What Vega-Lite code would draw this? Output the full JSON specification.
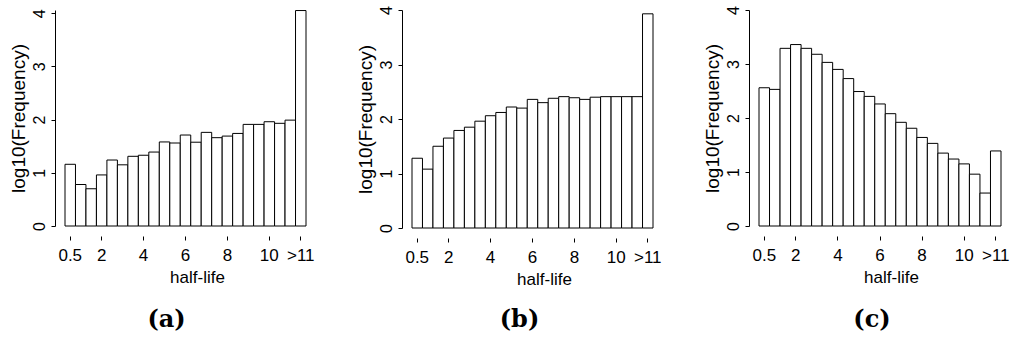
{
  "$schema": "https://vega.github.io/schema/vega-lite/v6.json",
  "padding": {"left": 9, "top": 5, "right": 0, "bottom": 0},
  "background": "white",
  "config": {
    "view": {"stroke": null},
    "axis": {"grid": false, "domainColor": "black", "tickColor": "black", "labelColor": "black", "titleColor": "black", "labelFont": "Liberation Sans", "titleFont": "Liberation Sans", "titleFontWeight": "normal", "domainWidth": 1, "tickWidth": 1},
    "title": {"font": "DejaVu Serif", "fontWeight": "bold", "fontSize": 24, "color": "black"}
  },
  "data": {"values": [
    {"panel": "a", "hl": "0.5", "v": 1.16}, {"panel": "a", "hl": "1", "v": 0.78}, {"panel": "a", "hl": "1.5", "v": 0.70}, {"panel": "a", "hl": "2", "v": 0.96}, {"panel": "a", "hl": "2.5", "v": 1.24}, {"panel": "a", "hl": "3", "v": 1.15}, {"panel": "a", "hl": "3.5", "v": 1.31}, {"panel": "a", "hl": "4", "v": 1.33}, {"panel": "a", "hl": "4.5", "v": 1.39}, {"panel": "a", "hl": "5", "v": 1.58}, {"panel": "a", "hl": "5.5", "v": 1.56}, {"panel": "a", "hl": "6", "v": 1.71}, {"panel": "a", "hl": "6.5", "v": 1.575}, {"panel": "a", "hl": "7", "v": 1.76}, {"panel": "a", "hl": "7.5", "v": 1.66}, {"panel": "a", "hl": "8", "v": 1.69}, {"panel": "a", "hl": "8.5", "v": 1.74}, {"panel": "a", "hl": "9", "v": 1.91}, {"panel": "a", "hl": "9.5", "v": 1.91}, {"panel": "a", "hl": "10", "v": 1.96}, {"panel": "a", "hl": "10.5", "v": 1.93}, {"panel": "a", "hl": "11", "v": 1.99}, {"panel": "a", "hl": ">11", "v": 4.05},
    {"panel": "b", "hl": "0.5", "v": 1.28}, {"panel": "b", "hl": "1", "v": 1.08}, {"panel": "b", "hl": "1.5", "v": 1.50}, {"panel": "b", "hl": "2", "v": 1.65}, {"panel": "b", "hl": "2.5", "v": 1.79}, {"panel": "b", "hl": "3", "v": 1.85}, {"panel": "b", "hl": "3.5", "v": 1.96}, {"panel": "b", "hl": "4", "v": 2.06}, {"panel": "b", "hl": "4.5", "v": 2.12}, {"panel": "b", "hl": "5", "v": 2.22}, {"panel": "b", "hl": "5.5", "v": 2.20}, {"panel": "b", "hl": "6", "v": 2.36}, {"panel": "b", "hl": "6.5", "v": 2.30}, {"panel": "b", "hl": "7", "v": 2.38}, {"panel": "b", "hl": "7.5", "v": 2.41}, {"panel": "b", "hl": "8", "v": 2.39}, {"panel": "b", "hl": "8.5", "v": 2.36}, {"panel": "b", "hl": "9", "v": 2.40}, {"panel": "b", "hl": "9.5", "v": 2.41}, {"panel": "b", "hl": "10", "v": 2.41}, {"panel": "b", "hl": "10.5", "v": 2.41}, {"panel": "b", "hl": "11", "v": 2.41}, {"panel": "b", "hl": ">11", "v": 3.93},
    {"panel": "c", "hl": "0.5", "v": 2.56}, {"panel": "c", "hl": "1", "v": 2.53}, {"panel": "c", "hl": "1.5", "v": 3.29}, {"panel": "c", "hl": "2", "v": 3.36}, {"panel": "c", "hl": "2.5", "v": 3.29}, {"panel": "c", "hl": "3", "v": 3.18}, {"panel": "c", "hl": "3.5", "v": 3.03}, {"panel": "c", "hl": "4", "v": 2.90}, {"panel": "c", "hl": "4.5", "v": 2.73}, {"panel": "c", "hl": "5", "v": 2.49}, {"panel": "c", "hl": "5.5", "v": 2.40}, {"panel": "c", "hl": "6", "v": 2.26}, {"panel": "c", "hl": "6.5", "v": 2.08}, {"panel": "c", "hl": "7", "v": 1.92}, {"panel": "c", "hl": "7.5", "v": 1.81}, {"panel": "c", "hl": "8", "v": 1.64}, {"panel": "c", "hl": "8.5", "v": 1.53}, {"panel": "c", "hl": "9", "v": 1.35}, {"panel": "c", "hl": "9.5", "v": 1.24}, {"panel": "c", "hl": "10", "v": 1.15}, {"panel": "c", "hl": "10.5", "v": 0.96}, {"panel": "c", "hl": "11", "v": 0.61}, {"panel": "c", "hl": ">11", "v": 1.39}
  ]},
  "hconcat": [
    {
      "width": 241, "height": 216,
      "transform": [{"filter": "datum.panel === 'a'"}],
      "title": {"text": "(a)", "orient": "bottom", "dx": -19, "offset": 23},
      "mark": {"type": "bar", "fill": "white", "stroke": "black", "strokeWidth": 1},
      "encoding": {
        "x": {"field": "hl", "type": "ordinal", "sort": ["0.5","1","1.5","2","2.5","3","3.5","4","4.5","5","5.5","6","6.5","7","7.5","8","8.5","9","9.5","10","10.5","11",">11"], "scale": {"paddingInner": 0, "paddingOuter": 0},
          "axis": {"values": ["0.5","2","4","6","8","10",">11"], "domain": false, "offset": 10, "tickSize": 4, "labelAngle": 0, "labelFontSize": 17, "labelPadding": 7, "title": "half-life", "titleFontSize": 17, "titleX": 132, "titleY": 33}},
        "y": {"field": "v", "type": "quantitative", "scale": {"domain": [0, 4.06], "nice": false},
          "axis": {"values": [0, 1, 2, 3, 4], "offset": 10, "tickSize": 4, "labelAngle": -90, "labelAlign": "center", "labelBaseline": "bottom", "labelFontSize": 16, "labelPadding": 4, "title": "log10(Frequency)", "titleFontSize": 19, "titlePadding": 3}}
      }
    },
    {
      "width": 241, "height": 218,
      "transform": [{"filter": "datum.panel === 'b'"}],
      "title": {"text": "(b)", "orient": "bottom", "dx": -13, "offset": 21},
      "mark": {"type": "bar", "fill": "white", "stroke": "black", "strokeWidth": 1},
      "encoding": {
        "x": {"field": "hl", "type": "ordinal", "sort": ["0.5","1","1.5","2","2.5","3","3.5","4","4.5","5","5.5","6","6.5","7","7.5","8","8.5","9","9.5","10","10.5","11",">11"], "scale": {"paddingInner": 0, "paddingOuter": 0},
          "axis": {"values": ["0.5","2","4","6","8","10",">11"], "domain": false, "offset": 10, "tickSize": 4, "labelAngle": 0, "labelFontSize": 17, "labelPadding": 7, "title": "half-life", "titleFontSize": 17, "titleX": 132, "titleY": 33}},
        "y": {"field": "v", "type": "quantitative", "scale": {"domain": [0, 4], "nice": false},
          "axis": {"values": [0, 1, 2, 3, 4], "offset": 10, "tickSize": 4, "labelAngle": -90, "labelAlign": "center", "labelBaseline": "bottom", "labelFontSize": 16, "labelPadding": 4, "title": "log10(Frequency)", "titleFontSize": 19, "titlePadding": 3}}
      }
    },
    {
      "width": 242, "height": 216,
      "transform": [{"filter": "datum.panel === 'c'"}],
      "title": {"text": "(c)", "orient": "bottom", "dx": -8, "offset": 23},
      "mark": {"type": "bar", "fill": "white", "stroke": "black", "strokeWidth": 1},
      "encoding": {
        "x": {"field": "hl", "type": "ordinal", "sort": ["0.5","1","1.5","2","2.5","3","3.5","4","4.5","5","5.5","6","6.5","7","7.5","8","8.5","9","9.5","10","10.5","11",">11"], "scale": {"paddingInner": 0, "paddingOuter": 0},
          "axis": {"values": ["0.5","2","4","6","8","10",">11"], "domain": false, "offset": 10, "tickSize": 4, "labelAngle": 0, "labelFontSize": 17, "labelPadding": 7, "title": "half-life", "titleFontSize": 17, "titleX": 132, "titleY": 33}},
        "y": {"field": "v", "type": "quantitative", "scale": {"domain": [0, 4], "nice": false},
          "axis": {"values": [0, 1, 2, 3, 4], "offset": 10, "tickSize": 4, "labelAngle": -90, "labelAlign": "center", "labelBaseline": "bottom", "labelFontSize": 16, "labelPadding": 4, "title": "log10(Frequency)", "titleFontSize": 19, "titlePadding": 3}}
      }
    }
  ],
  "bounds": "flush",
  "spacing": 106
}
